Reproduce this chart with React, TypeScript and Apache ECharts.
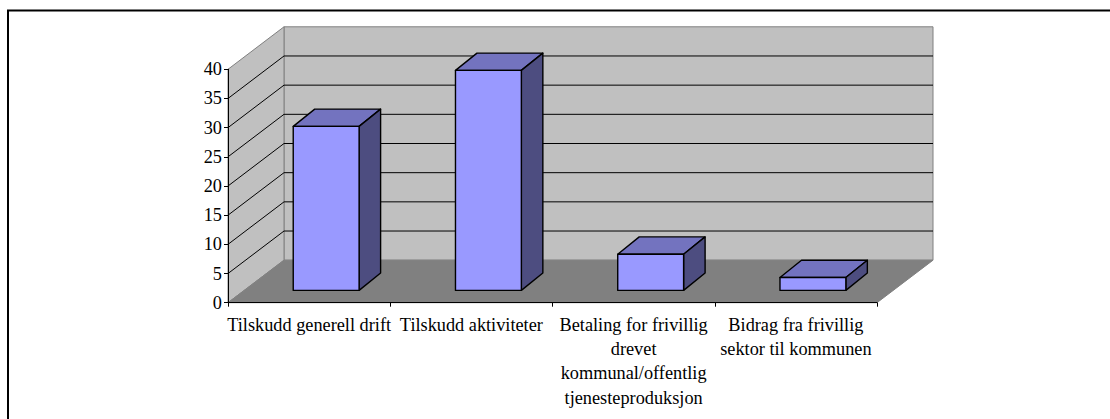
import React, { useEffect, useRef } from "react";
import * as echarts from "echarts";

const categories = [
  "Tilskudd generell drift",
  "Tilskudd aktiviteter",
  "Betaling for frivillig\ndrevet\nkommunal/offentlig\ntjenesteproduksjon",
  "Bidrag fra frivillig\nsektor til kommunen",
];
const values = [28.1, 37.7, 6.2, 2.2];
const gridTicks = [5, 10, 15, 20, 25, 30, 35];

const DX = 56;
const DY = 42.5;
const WALL = "#C0C0C0";
const FLOOR = "#808080";
const EDGE = "#808080";
const FRONT = "#9999FF";
const TOP = "#7373BF";
const SIDE = "#4D4D80";
const FONT = "Liberation Serif";
const FONT_SIZE = 18.3;

export default function App() {
  const ref = useRef<HTMLDivElement>(null);
  useEffect(() => {
    const chart = echarts.init(ref.current!, null, { renderer: "svg" });
    chart.setOption({
      animation: false,
      backgroundColor: "#fff",
      grid: { left: 228, top: 69.3, width: 649, height: 233.4, containLabel: false },
      xAxis: {
        type: "category",
        data: categories,
        z: 6,
        axisLine: { lineStyle: { color: "#000", width: 1 } },
        axisTick: { show: true, length: 4, lineStyle: { color: "#000" } },
        axisLabel: {
          interval: 0,
          margin: 10,
          color: "#000",
          fontFamily: FONT,
          fontSize: FONT_SIZE,
          lineHeight: 24.3,
          align: "center",
          verticalAlign: "top",
        },
        splitLine: { show: false },
      },
      yAxis: {
        type: "value",
        min: 0,
        max: 40,
        interval: 5,
        z: 6,
        axisLine: { show: true, lineStyle: { color: "#000", width: 1 } },
        axisTick: { show: true, length: 4, lineStyle: { color: "#000" } },
        axisLabel: { margin: 6, color: "#000", fontFamily: FONT, fontSize: FONT_SIZE, padding: [2, 0, 0, 0] },
        splitLine: { show: false },
      },
      graphic: [
        {
          type: "polyline",
          shape: { points: [[8, 419], [8, 10.5], [1110, 10.5]] },
          style: { stroke: "#000", lineWidth: 2, fill: "none" },
        },
      ],
      series: [
        {
          type: "custom",
          z: 1,
          silent: true,
          data: [[0, 0]],
          encode: { x: 0, y: 1 },
          renderItem: (params: any) => {
            const c = params.coordSys;
            const l = c.x, r = c.x + c.width, t = c.y, b = c.y + c.height;
            const poly = (points: number[][], fill: string, stroke: string) => ({
              type: "polygon",
              shape: { points },
              style: { fill, stroke, lineWidth: 1 },
            });
            return {
              type: "group",
              children: [
                poly([[l + DX, t - DY], [r + DX, t - DY], [r + DX, b - DY], [l + DX, b - DY]], WALL, EDGE),
                poly([[l, t], [l + DX, t - DY], [l + DX, b - DY], [l, b]], WALL, EDGE),
                poly([[l, b], [l + DX, b - DY], [r + DX, b - DY], [r, b]], FLOOR, EDGE),
              ],
            };
          },
        },
        {
          type: "custom",
          z: 2,
          silent: true,
          data: gridTicks.map((v) => [0, v]),
          encode: { x: 0, y: 1 },
          renderItem: (params: any, api: any) => {
            const c = params.coordSys;
            const y = api.coord([0, api.value(1)])[1];
            const l = c.x, r = c.x + c.width;
            return {
              type: "polyline",
              shape: { points: [[l, y], [l + DX, y - DY], [r + DX, y - DY]] },
              style: { stroke: "#000", lineWidth: 1, fill: "none" },
            };
          },
        },
        {
          type: "custom",
          z: 3,
          silent: true,
          data: values.map((v, i) => [i, v]),
          encode: { x: 0, y: 1 },
          renderItem: (_params: any, api: any) => {
            const band = api.size([1, 0])[0];
            const w = band * 0.406;
            const p0 = api.coord([api.value(0), 0]);
            const p1 = api.coord([api.value(0), api.value(1)]);
            const sx = 0.29 * DX + 0.8, sy = 0.29 * DY;
            const ox = 21.5, oy = 17.3;
            const x0 = p0[0] + sx - w / 2, x1 = x0 + w;
            const yb = p0[1] - sy, h = p0[1] - p1[1], yt = yb - h;
            const st = { stroke: "#000", lineWidth: 1.4, lineJoin: "round" };
            const poly = (points: number[][], fill: string) => ({
              type: "polygon",
              shape: { points },
              style: { ...st, fill },
            });
            return {
              type: "group",
              children: [
                poly([[x0, yt], [x0 + ox, yt - oy], [x1 + ox, yt - oy], [x1, yt]], TOP),
                poly([[x1, yt], [x1 + ox, yt - oy], [x1 + ox, yb - oy], [x1, yb]], SIDE),
                poly([[x0, yt], [x1, yt], [x1, yb], [x0, yb]], FRONT),
              ],
            };
          },
        },
      ],
    });
    return () => chart.dispose();
  }, []);
  return (
    <div
      ref={ref}
      style={{ position: "absolute", left: 0, top: 0, width: 1110, height: 419 }}
    />
  );
}
